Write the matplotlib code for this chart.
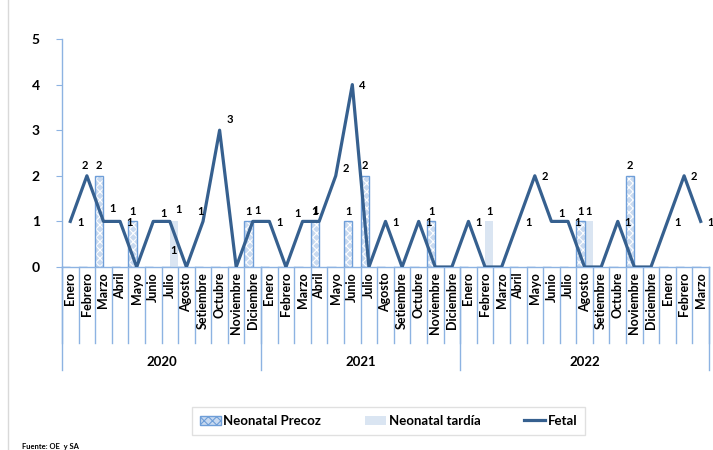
import numpy as np
import matplotlib
matplotlib.use('Agg')
import matplotlib.pyplot as plt
from matplotlib.patches import Patch
from matplotlib.lines import Line2D

plt.rcParams['font.family'] = ['Lato', 'DejaVu Sans']
plt.rcParams['font.weight'] = 'bold'
plt.rcParams['hatch.linewidth'] = 0.8

# Datos
meses = ['Enero', 'Febrero', 'Marzo', 'Abril', 'Mayo', 'Junio', 'Julio', 'Agosto',
         'Setiembre', 'Octubre', 'Noviembre', 'Diciembre'] * 3 + ['Enero', 'Febrero', 'Marzo']
anios = ['2020', '2021', '2022']
meses_por_anio = [12, 12, 15]

fetal = [1, 2, 1, 1, 0, 1, 1, 0, 1, 3, 0, 1,
         1, 0, 1, 1, 2, 4, 0, 1, 0, 1, 0, 0,
         1, 0, 0, 1, 2, 1, 1, 0, 0, 1, 0, 0, 1, 2, 1]
neonatal_precoz = [0, 0, 2, 0, 1, 0, 0, 0, 0, 0, 0, 1,
                   0, 0, 0, 1, 0, 1, 2, 0, 0, 0, 1, 0,
                   0, 0, 0, 0, 0, 0, 0, 1, 0, 0, 2, 0, 0, 0, 0]
neonatal_tardia = [0, 0, 0, 0, 0, 0, 1, 0, 0, 0, 0, 0,
                   0, 0, 0, 0, 0, 0, 0, 0, 0, 0, 0, 0,
                   0, 1, 0, 0, 0, 0, 0, 1, 0, 0, 0, 0, 0, 0, 0]

azul_linea = '#36608F'
azul_eje = '#8DB3E2'
relleno_precoz = '#C9DAF0'
borde_precoz = '#6E9ED8'
relleno_tardia = '#DAE5F2'

fig = plt.figure(figsize=(7.13, 4.5), dpi=100)
ax = fig.add_axes([62 / 713, 1 - 267 / 450, (709 - 62) / 713, (267 - 39) / 450])

x = np.arange(len(meses))
n = len(meses)

# barras agrupadas
ax.bar(x - 0.25, neonatal_precoz, width=0.5, color=relleno_precoz, hatch='xxxx',
       edgecolor='white', linewidth=0, zorder=2)
ax.bar(x - 0.25, neonatal_precoz, width=0.5, fill=False, edgecolor=borde_precoz,
       linewidth=1, zorder=3)
ax.bar(x + 0.25, neonatal_tardia, width=0.5, color=relleno_tardia, linewidth=0, zorder=2)

ax.plot(x, fetal, color=azul_linea, linewidth=2.3, zorder=4)

# etiquetas de la linea
desplaz = {1: (-2, 10), 2: (9, 13), 5: (10, 8), 6: (9, 12), 8: (-2, 10), 9: (10, 11),
           11: (5, 11), 14: (-5, 8), 15: (-4, 11), 16: (10, 7), 29: (10, 8)}
for i, v in enumerate(fetal):
    if v == 0:
        continue
    dx, dy = desplaz.get(i, (10, -1))
    ax.annotate(str(v), (i, v), xytext=(dx, dy), textcoords='offset pixels',
                ha='center', va='center', fontsize=8, fontweight='bold',
                annotation_clip=False, zorder=6)

# etiquetas de barras
for i, v in enumerate(neonatal_precoz):
    if v:
        ax.annotate(str(v), (i - 0.25, v), xytext=(0, 10), textcoords='offset pixels',
                    ha='center', va='center', fontsize=8, fontweight='bold', zorder=6)
for i, v in enumerate(neonatal_tardia):
    if v:
        if i == 6:
            ax.annotate(str(v), (i + 0.25, 0.37), ha='center', va='center',
                        fontsize=8, fontweight='bold', zorder=6)
        else:
            ax.annotate(str(v), (i + 0.25, v), xytext=(0, 10), textcoords='offset pixels',
                        ha='center', va='center', fontsize=8, fontweight='bold', zorder=6)

ax.set_xlim(-0.5, n - 0.5)
ax.set_ylim(0, 5)
ax.set_yticks(range(6))
ax.tick_params(axis='y', length=4, color=azul_eje, labelsize=10, pad=12)
for t in ax.get_yticklabels():
    t.set_fontweight('bold')
ax.set_xticks([])
for s in ['top', 'right']:
    ax.spines[s].set_visible(False)
for s in ['left', 'bottom']:
    ax.spines[s].set_color(azul_eje)
    ax.spines[s].set_linewidth(1)

# eje de categorias con dos niveles
trans = ax.get_xaxis_transform()
for i in range(n + 1):
    ax.plot([i - 0.5, i - 0.5], [0, -0.333], transform=trans, color=azul_eje,
            linewidth=1, clip_on=False)
for i, m in enumerate(meses):
    ax.text(i, -0.022, m, transform=trans, rotation=90, ha='center', va='top',
            fontsize=9, fontweight='bold')

inicio = 0
for a, k in zip(anios, meses_por_anio):
    ax.plot([inicio - 0.5, inicio - 0.5], [0, -0.452], transform=trans, color=azul_eje,
            linewidth=1, clip_on=False)
    ax.text(inicio + k / 2 - 0.5, -0.417, a, transform=trans, ha='center', va='center',
            fontsize=9.5, fontweight='bold')
    inicio += k
ax.plot([n - 0.5, n - 0.5], [0, -0.452], transform=trans, color=azul_eje,
        linewidth=1, clip_on=False)

# leyenda
manejadores = [Patch(facecolor=relleno_precoz, edgecolor=borde_precoz, hatch='xxxx'),
               Patch(facecolor=relleno_tardia, edgecolor='none'),
               Line2D([0], [0], color=azul_linea, linewidth=2.3)]
leg = fig.legend(manejadores, ['Neonatal Precoz', 'Neonatal tardía', 'Fetal'],
                 loc='center', bbox_to_anchor=(388.5 / 713, 1 - 421 / 450), ncol=3,
                 fancybox=False, frameon=True, edgecolor='#D9D9D9', fontsize=9.5,
                 handlelength=1.6, handletextpad=0.2, columnspacing=3.3,
                 borderpad=0.6)
for t in leg.get_texts():
    t.set_fontweight('bold')

fig.text(22 / 713, 1 - 446 / 450, 'Fuente: OE  y SA', fontsize=5.5, fontweight='bold',
         va='center')
fig.add_artist(Line2D([8 / 713, 8 / 713], [0, 1], color='#D9D9D9', linewidth=1))

fig.savefig('out.png', dpi=100)
